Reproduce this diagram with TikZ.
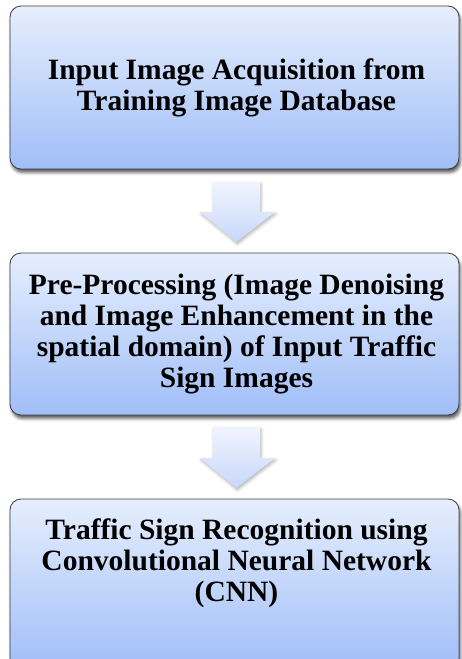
\documentclass[tikz,border=0pt]{standalone}
\usepackage{fontspec}
\setmainfont{Liberation Serif}
\usetikzlibrary{shadows.blur,calc}

\definecolor{boxtop}{RGB}{230,238,253}
\definecolor{boxbot}{RGB}{160,190,248}
\definecolor{boxline}{RGB}{60,60,64}
\definecolor{arrtop}{RGB}{240,244,254}
\definecolor{arrbot}{RGB}{200,216,250}

\tikzset{
  stagebox/.style={draw=boxline, line width=0.8pt, rounded corners=11pt,
    top color=boxtop, bottom color=boxbot, minimum width=449pt,
    inner sep=0pt, outer sep=0pt,
    blur shadow={shadow xshift=1.5pt, shadow yshift=-3.5pt,
      shadow blur radius=3pt, shadow opacity=65}},
  stagetext/.style={align=center, inner sep=0pt,
    font=\fontsize{29.5}{31}\selectfont\bfseries},
  blockarrow/.style={top color=arrtop, bottom color=arrbot, draw=none,
    blur shadow={shadow xshift=1pt, shadow yshift=-2pt,
      shadow blur radius=3pt, shadow opacity=30}}
}

\begin{document}
\begin{tikzpicture}[x=1pt,y=-1pt]
  \useasboundingbox (0,0) rectangle (461,659);

  % the three stage boxes (the last one runs past the lower edge)
  \node[stagebox, minimum height=163pt] (b1) at (234.5,87.5) {};
  \node[stagebox, minimum height=162pt] (b2) at (234.5,334) {};
  \node[stagebox, minimum height=171pt] (b3) at (234.5,584.5) {};

  % stage labels
  \node[stagetext] (t1) at ($(b1.center)+(2,0)$) {Input Image Acquisition from\\Training Image Database};
  \node[stagetext] (t2) at ($(b2.center)+(2,0.5)$) {Pre-Processing (Image Denoising\\and Image Enhancement in the\\spatial domain) of Input Traffic\\Sign Images};
  \node[stagetext] (t3) at ($(b3.north)+(2,64)$) {Traffic Sign Recognition using\\Convolutional Neural Network\\(CNN)};

  % block arrows between the stages
  \path[blockarrow]
    ($(b1.south)+(-21.5,13)$) -- ($(b1.south)+(25.5,13)$) -- ($(b1.south)+(25.5,43)$)
    -- ($(b1.south)+(40.5,43)$) -- ($(b2.north)+(2,-11)$) -- ($(b1.south)+(-34.5,43)$)
    -- ($(b1.south)+(-21.5,43)$) -- cycle;
  \path[blockarrow]
    ($(b2.south)+(-21.5,12)$) -- ($(b2.south)+(25.5,12)$) -- ($(b2.south)+(25.5,43)$)
    -- ($(b2.south)+(40.5,43)$) -- ($(b3.north)+(2,-11)$) -- ($(b2.south)+(-34.5,43)$)
    -- ($(b2.south)+(-21.5,43)$) -- cycle;
\end{tikzpicture}
\end{document}
